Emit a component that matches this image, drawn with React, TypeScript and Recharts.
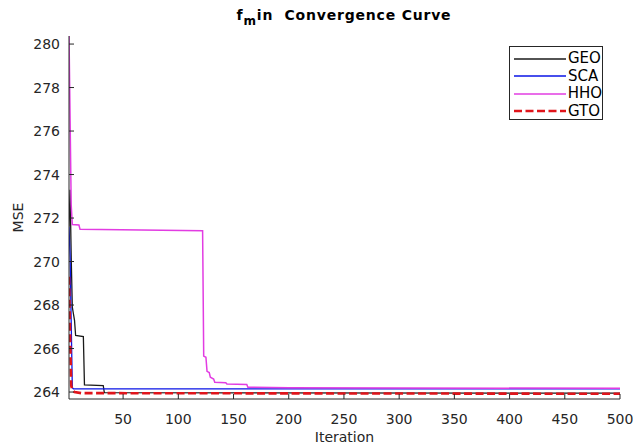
import React from 'react';
import { LineChart, Line, XAxis, YAxis, Legend } from 'recharts';

// axis ticks
const xTicks = [50, 100, 150, 200, 250, 300, 350, 400, 450, 500];
const yTicks = [264, 266, 268, 270, 272, 274, 276, 278, 280];

// convergence curves: iteration where the value changes, and MSE there
const geoIter = [1, 2, 3, 4, 5, 6, 7, 14, 15, 32, 33, 500];
const geoMse = [271.6, 273.3, 270.2, 267.9, 267.6, 267.3, 266.6, 266.55, 264.33, 264.3, 263.97, 263.95];

const scaIter = [1, 2, 3, 4, 5, 500];
const scaMse = [271.6, 270.2, 267.2, 264.2, 264.15, 264.15];

const hhoIter = [1, 2, 3, 4, 10, 11, 122, 123, 125, 126, 128, 129, 132, 133, 143, 144, 162, 163, 200, 500];
const hhoMse = [280.4, 276.5, 272.6, 271.7, 271.68, 271.48, 271.42, 265.65, 265.6, 264.95, 264.9, 264.68, 264.6, 264.45, 264.43, 264.37, 264.35, 264.22, 264.2, 264.17];

const gtoIter = [1, 2, 3, 4, 6, 12, 500];
const gtoMse = [269.3, 266.5, 264.3, 264.1, 264.0, 263.95, 263.92];

const toPoints = (iters: number[], vals: number[]) => iters.map((it, i) => ({ iter: it, mse: vals[i] }));

const series = [
  { name: 'GEO', data: toPoints(geoIter, geoMse), color: '#1a1a1a', width: 1.3, dash: undefined as string | undefined },
  { name: 'SCA', data: toPoints(scaIter, scaMse), color: '#0a14e6', width: 1.3, dash: undefined },
  { name: 'HHO', data: toPoints(hhoIter, hhoMse), color: '#e23ce2', width: 1.5, dash: undefined },
  { name: 'GTO', data: toPoints(gtoIter, gtoMse), color: '#e0141a', width: 2.6, dash: '8 3.5' },
];

const FONT = '"DejaVu Sans", sans-serif';
const INK = '#262626';

const LegendBox = () => (
  <div
    style={{
      boxSizing: 'border-box',
      width: 94,
      height: 74,
      border: `1px solid ${INK}`,
      background: '#fff',
      padding: '3px 0 0 4px',
      fontFamily: FONT,
      fontSize: 15,
      color: '#000',
    }}
  >
    {series.map((s) => (
      <div key={s.name} style={{ display: 'flex', alignItems: 'center', height: 17.5 }}>
        <svg width={52} height={10} style={{ display: 'block' }}>
          <line x1={0} y1={5} x2={52} y2={5} stroke={s.color} strokeWidth={s.width} strokeDasharray={s.dash} />
        </svg>
        <span style={{ marginLeft: 2, lineHeight: '15px' }}>{s.name}</span>
      </div>
    ))}
  </div>
);

export default function App() {
  return (
    <div style={{ position: 'absolute', left: 0, top: 0, width: 633, height: 445, background: '#fff' }}>
      <LineChart width={633} height={445} margin={{ top: 36, right: 13, bottom: 0, left: 0 }}>
        <XAxis
          dataKey="iter"
          type="number"
          domain={[1, 500]}
          allowDataOverflow
          ticks={xTicks}
          height={46}
          stroke={INK}
          tickSize={-5}
          tickMargin={20}
          tick={{ fill: INK, fontSize: 14, fontFamily: FONT }}
          label={{ value: 'Iteration', position: 'insideBottom', offset: 3, fill: INK, fontSize: 14, fontFamily: FONT }}
        />
        <XAxis
          xAxisId="top"
          orientation="top"
          type="number"
          domain={[1, 500]}
          allowDataOverflow
          ticks={xTicks}
          height={0}
          stroke={INK}
          tickSize={-5}
          tick={() => <g />}
        />
        <YAxis
          type="number"
          domain={[263.68, 280.37]}
          allowDataOverflow
          ticks={yTicks}
          width={69}
          stroke={INK}
          tickSize={-5}
          tickMargin={14}
          tick={{ fill: INK, fontSize: 14, fontFamily: FONT }}
          label={{ value: 'MSE', angle: -90, position: 'insideLeft', offset: 18, fill: INK, fontSize: 14, fontFamily: FONT, style: { textAnchor: 'middle' } }}
        />
        <YAxis
          yAxisId="right"
          orientation="right"
          type="number"
          domain={[263.68, 280.37]}
          allowDataOverflow
          ticks={yTicks}
          width={0}
          stroke={INK}
          tickSize={-5}
          tick={() => <g />}
        />
        {series.map((s) => (
          <Line
            key={s.name}
            name={s.name}
            data={s.data}
            dataKey="mse"
            type="linear"
            stroke={s.color}
            strokeWidth={s.width}
            strokeDasharray={s.dash}
            dot={false}
            isAnimationActive={false}
          />
        ))}
        <Legend
          layout="vertical"
          align="center"
          verticalAlign="middle"
          content={() => <LegendBox />}
          wrapperStyle={{ left: 509, top: 46, width: 94, height: 74 }}
        />
        <text x={344} y={20} textAnchor="middle" fontFamily={FONT} fontWeight="bold" fontSize={14} fill="#000" letterSpacing={0.8} style={{ whiteSpace: 'pre' }}>
          f<tspan dy={5} fontSize={12}>m</tspan>
          <tspan dy={-5}>in  Convergence Curve</tspan>
        </text>
      </LineChart>
    </div>
  );
}
